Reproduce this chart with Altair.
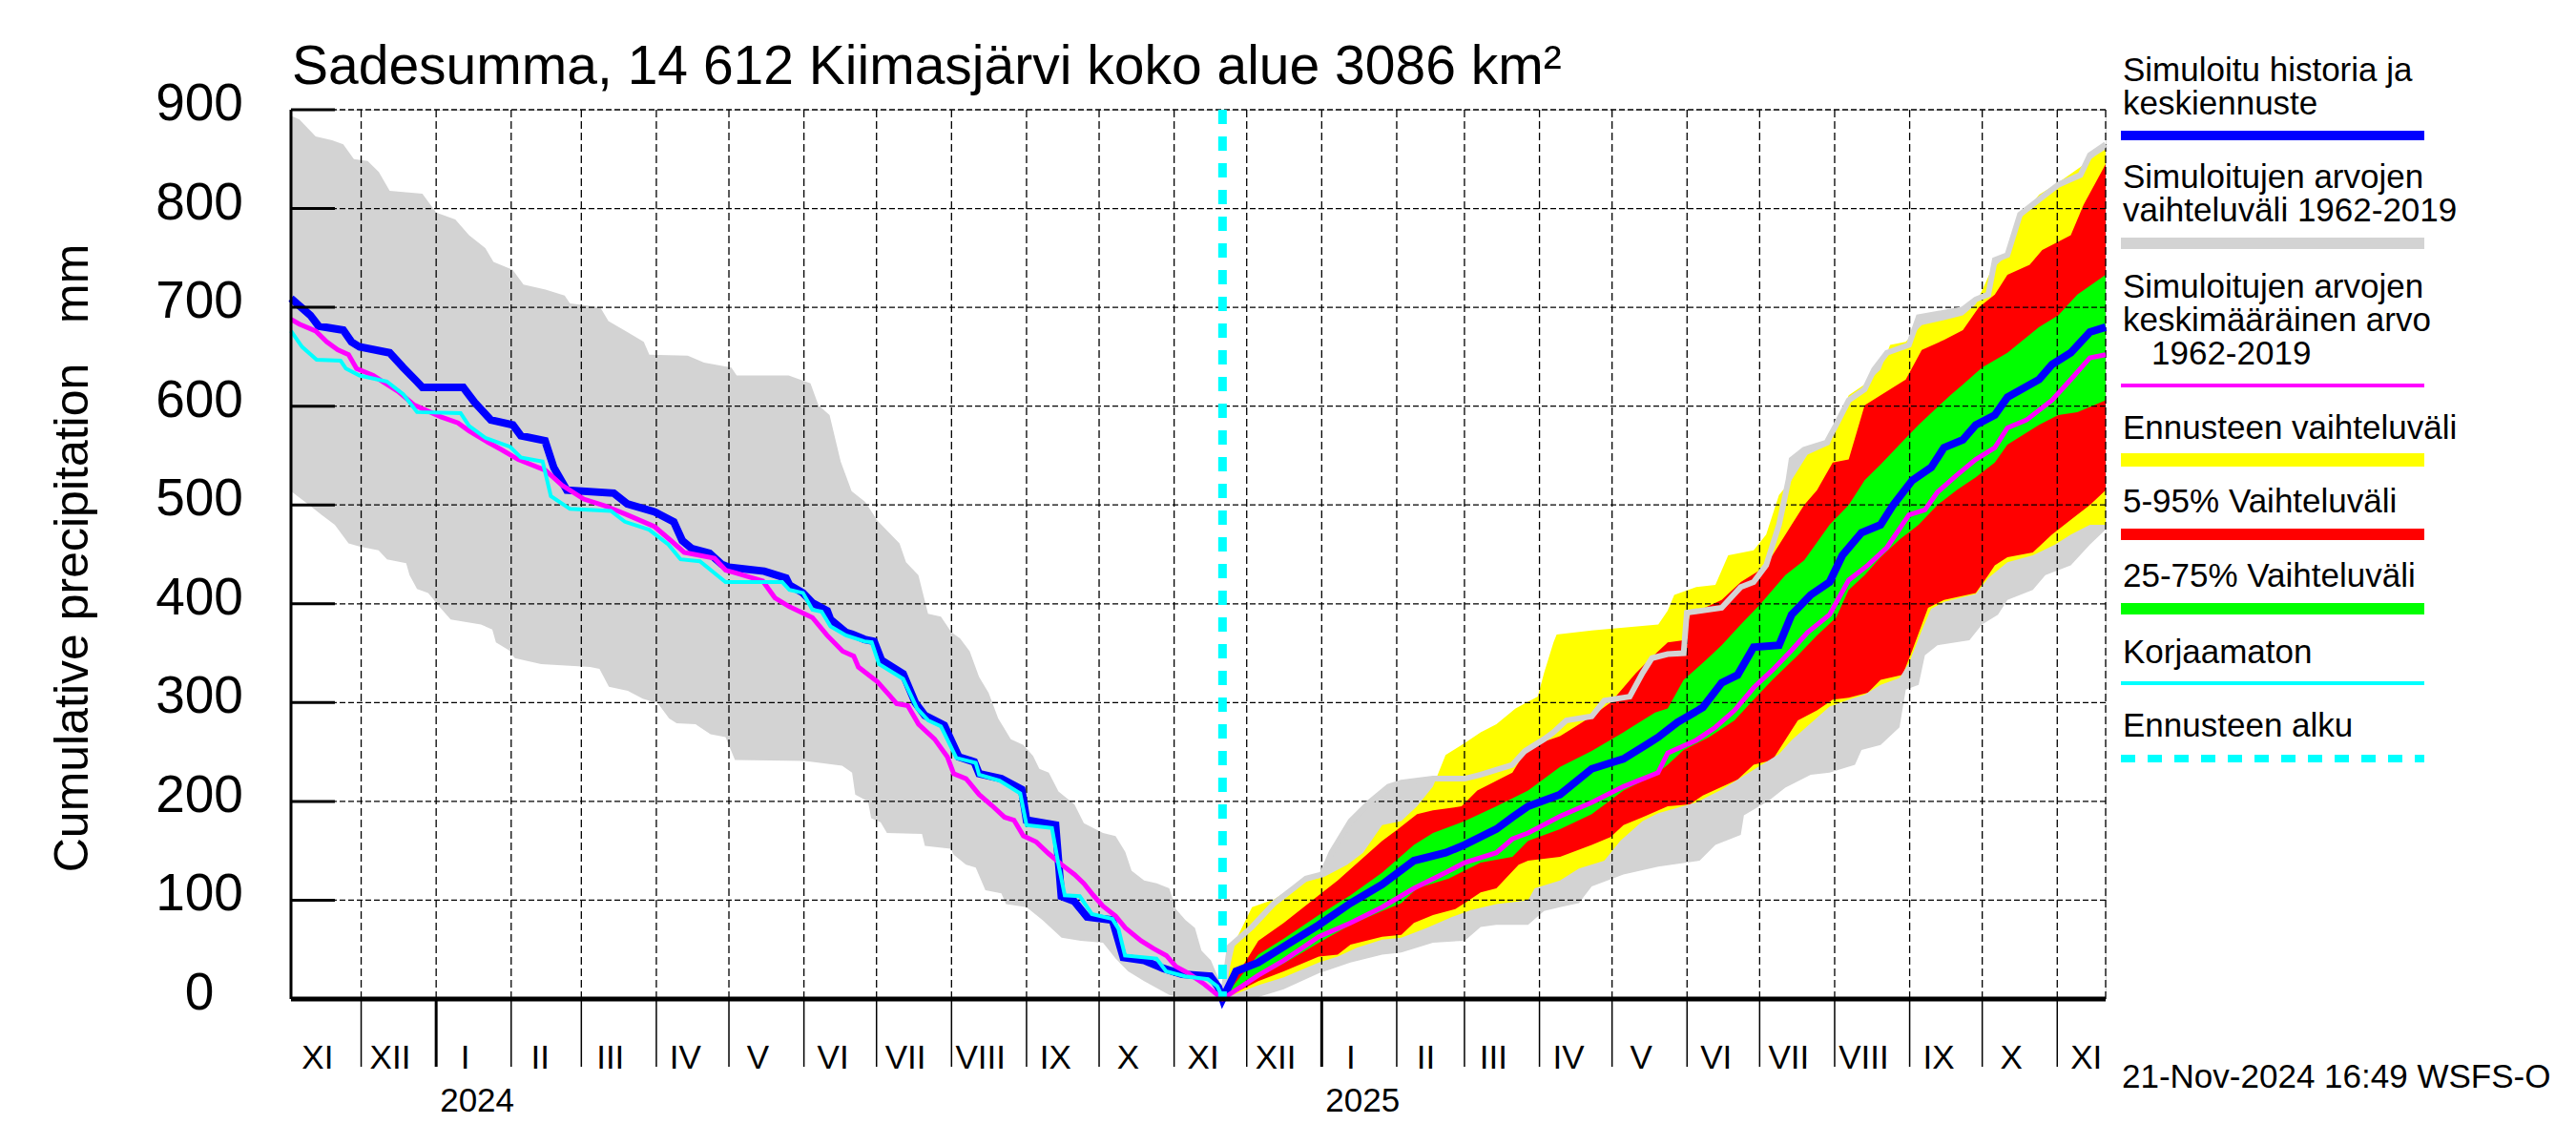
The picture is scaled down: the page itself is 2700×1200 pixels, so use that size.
import altair as alt
import pandas as pd

FONT = "Liberation Sans"
W, H = 1902, 932
BASE = pd.Timestamp("2024-01-01")

# ---------------- data (day offset from 2024-01-01, value mm) ----------------
BLUE_D = [-60, -52, -48.6, -38.4, -35, -31.7, -19.2, -13.6, -8, -5.7, 11.2, 15.8, 22.6, 31.7, 35, 45, 48.6, 54,
          73.4, 79, 90.3, 98.2, 101.7, 105.6, 113, 118, 121, 135.6, 144.6, 146, 151.6, 155.5, 161.6, 163, 169.4,
          172, 177, 181, 184, 193, 198, 202, 210, 216, 222.4, 224.4, 233.6, 242, 244, 256, 258.4, 263.7, 269,
          279.5, 284, 292.6, 300.5, 308.3, 320, 323.3, 325,
          330.6, 339.8, 350.3, 364.8, 377.9, 391, 404.1, 417.2, 425.1, 438.2, 444.8, 451.3, 464.5, 477.6, 490.7,
          501.2, 505.1, 513, 523.5, 531.3, 537.9, 544.5, 555, 560.2, 568.1, 575.9, 581.2, 589.1, 597, 602.2,
          610.1, 617.9, 623.2, 631, 636.3, 644.2, 649.4, 662.5, 667.8, 675.6, 683.5, 690]
BLUE_V = [709, 692, 681, 677, 665, 660, 654, 639, 625, 619, 619, 604, 586, 581, 570, 565, 538, 515,
          512, 501, 493, 483, 464, 456, 451, 440, 437, 433, 426, 419, 411, 401, 393, 384, 371,
          369, 364, 362, 343, 329, 300, 287, 277, 245, 240, 228, 223, 212, 181, 176, 104, 99, 83,
          80, 42, 39, 31, 25, 23, 12, 0,
          28, 37, 53, 75, 97, 116, 140, 148, 156, 172, 184, 195, 207, 233, 243,
          259, 265, 280, 295, 320, 328, 356, 358, 389, 409, 422, 449, 472, 480, 500,
          525, 538, 558, 566, 581, 591, 609, 627, 642, 654, 675, 680]

CYAN_D = [-60, -55.4, -49.4, -39.5, -37.3, -31.7, -20.4, -13.6, -7.9, 10.1, 13.6, 20.3, 30.5, 35, 44, 47.4,
          55.3, 72.2, 78, 88, 96, 101, 109, 119.6, 143, 146, 151.6, 155.5, 159.3, 163, 169.4, 177, 180, 183,
          193, 198.8, 203.3, 208.6, 215, 223, 224.4, 232.8, 241.4, 244, 254.5, 257.2, 259.8, 266, 271, 279.5,
          282, 284.7, 297.7, 301.7, 309.5, 319, 322.8, 325]
CYAN_V = [676, 660, 647, 646, 638, 631, 625, 612, 594, 593, 580, 568, 559, 548, 544, 509,
          496, 494, 483, 475, 460, 445, 443, 422, 422, 414, 411, 394, 392, 377, 368, 362, 361, 339,
          324, 294, 282, 276, 244, 239, 227, 221, 208, 176, 173, 136, 105, 104, 86, 81,
          71, 44, 41, 28, 23, 20, 13, 2]

MAG_D = [-60, -56.5, -49.8, -45.2, -40.7, -36.2, -32.9, -26, -20.3, -15.8, -9, 2.2, 9, 13.6, 20.3, 27, 33.9,
         45.2, 52, 61, 70, 79, 90.3, 97, 102.5, 115, 119.6, 124, 135, 140, 146, 155.5, 161.6, 168, 172.6,
         174.5, 182.4, 187.5, 190.3, 194.9, 199.4, 206, 211.3, 213.9, 219, 224.4, 229.6, 234.9, 238.8, 242.7,
         248, 253.2, 258.5, 263.8, 267.7, 271.6, 275.6, 280.8, 284.8, 291.3, 296.5, 301.8, 305.7, 311, 317.5, 325,
         339.8, 350.3, 364.8, 377.9, 391, 404.1, 417.2, 425.1, 438.2, 444.8, 451.3, 464.5, 477.6, 490.7, 505,
         509, 520.8, 528.7, 536.6, 544.5, 552.3, 560.2, 566.8, 575.9, 583.8, 591.7, 599.6, 608.7, 615.3, 620.5,
         628.4, 636.3, 644.2, 649.4, 657.3, 667.8, 675.6, 683.5, 690]
MAG_V = [688, 683, 676, 665, 657, 652, 638, 631, 622, 615, 601, 589, 583, 575, 565, 556, 546,
         535, 520, 506, 499, 490, 478, 464, 452, 446, 434, 431, 423, 406, 397, 386, 368, 352, 347,
         336, 321, 307, 299, 297, 278, 263, 245, 228, 223, 207, 196, 184, 181, 165,
         159, 147, 136, 126, 117, 105, 94, 84, 72, 59, 51, 44, 33, 26, 15, 0,
         24, 39, 63, 77, 93, 112, 128, 138, 148, 162, 168, 185, 199, 215, 229,
         249, 262, 275, 292, 315, 333, 353, 371, 389, 424, 439, 457, 490, 495, 513,
         530, 546, 558, 578, 586, 606, 627, 649, 652]

GRAY_UP_D = [-60, -56.5, -49.8, -43, -38.4, -34, -28.3, -23.7, -19.2, -5.7, 0, 7.9, 13.6, 20.3, 23.7, 31.6, 36.1,
             45.2, 53.1, 55.3, 67.8, 71.2, 79, 85.8, 88.1, 104, 110.7, 122, 124.2, 145.7, 154.7, 158, 162.6,
             167.2, 171.7, 177.3, 182.4, 191.5, 194.2, 199.3, 203.3, 208.6, 213, 216.5, 220.5, 224.4, 228.3,
             232.3, 237.5, 242.7, 246.7, 249.3, 253.2, 257.2, 263.8, 267.7, 275.6, 280.8, 284.8, 287.4, 292.6,
             297.8, 303, 305.7, 309.7, 313.6, 316.3, 320.2, 323.5, 325,
             328, 337.2, 346.4, 354.3, 359.5, 366.1, 370, 377.9, 385.7, 393.6, 398.9, 412, 425.1, 431.7, 444.8,
             450, 457.9, 461.8, 467.1, 477.6, 482.8, 493.3, 498.6, 502.5, 509, 515.6, 516.9, 531.3, 539.2, 544.5,
             549.7, 555, 558.9, 560.2, 565.4, 574.6, 578.6, 583.8, 590.4, 594.3, 599.6, 608.7, 612.7, 631, 636.3,
             641.5, 644.2, 649.4, 654.6, 662.5, 670.4, 679.6, 683.5, 690]
GRAY_UP_V = [894, 890, 873, 869, 865, 850, 848, 837, 818, 815, 796, 789, 773, 760, 746, 738, 723,
             718, 712, 704, 700, 686, 675, 665, 652, 651, 644, 639, 631, 631, 623, 601, 591,
             544, 514, 503, 484, 461, 442, 429, 390, 387, 371, 365, 352, 326, 310,
             284, 263, 257, 246, 233, 229, 210, 197, 178, 168, 165, 149, 130, 120,
             117, 112, 91, 80, 72, 49, 39, 20, 0,
             53, 73, 97, 112, 122, 126, 148, 180, 199, 215, 219, 223, 223, 227, 237,
             251, 263, 270, 282, 286, 302, 306, 330, 345, 349, 350, 391, 396, 417, 422,
             439, 480, 525, 546, 556, 563, 581, 606, 617, 637, 654, 662, 690, 698, 708,
             713, 748, 753, 794, 809, 824, 834, 854, 865]

GRAY_LO_D = [-60, -52, -47.4, -41.9, -36.2, -31.7, -23.8, -20.3, -12.4, -11, -7.9, -3.3, 1.4, 6, 18.5, 23.2, 24.7,
             30.1, 32.5, 43.4, 63.6, 67.5, 71.4, 79.2, 85.4, 91.7, 96.3, 99.4, 107.2, 113.4, 119.6, 123.5, 152.3,
             158.6, 167.8, 171.9, 173.2, 178.5, 179.8, 183.7, 186.3, 200.8, 202, 212.6, 213.9, 219, 223, 227,
             233.6, 235.5, 244, 250.6, 258.5, 266.4, 275.6, 280.8, 286, 292.6, 303, 311, 325,
             339.8, 350.3, 364.8, 377.9, 391, 398.9, 412, 425.1, 431.7, 438.2, 451.3, 457.9, 464.5, 472.3, 477.6,
             490.7, 505.1, 522.2, 528.7, 539.2, 540.5, 551, 557.6, 568.1, 575.9, 586.4, 589.1, 597, 604.8, 607.4,
             612.7, 615.3, 620.5, 633.7, 638.9, 645.5, 649.4, 659.9, 665.1, 675.6, 683.5, 690]
GRAY_LO_V = [514, 499, 490, 480, 461, 458, 454, 445, 441, 429, 415, 411, 397, 384, 379, 374, 361,
             353, 345, 339, 336, 334, 316, 312, 304, 299, 284, 279, 278, 268, 265, 242, 241,
             239, 236, 229, 207, 200, 183, 179, 168, 167, 155, 152, 146, 136, 133, 110,
             107, 96, 93, 80, 62, 59, 57, 41, 28, 18, 4, 0, 0,
             2, 10, 26, 37, 45, 47, 57, 59, 73, 75, 75, 89, 93, 97, 114,
             126, 134, 140, 156, 166, 186, 201, 214, 227, 229, 237, 252, 257, 275, 313,
             318, 348, 358, 363, 379, 389, 404, 414, 429, 439, 460, 475]

YEL_UP_D = [325, 330.6, 337.2, 346.4, 355.6, 367.4, 376.6, 383.1, 391, 398.9, 405.4, 412, 417.2, 425.1, 431.7,
            438.2, 446.1, 455.3, 457.9, 461.8, 463.1, 477.6, 505.1, 509, 511.7, 520.8, 528.7, 534, 544.5, 549.7,
            555, 560.2, 566.8, 575.9, 583.8, 590.4, 597, 600.9, 607.4, 614, 623.2, 631, 636.3, 642.8, 649.4,
            654.6, 662.5, 669.1, 679.6, 686.1, 690]
YEL_UP_V = [0, 60, 93, 101, 116, 124, 136, 148, 176, 180, 195, 215, 247, 259, 270,
            278, 294, 306, 330, 361, 369, 373, 379, 393, 409, 417, 419, 449, 454, 470,
            510, 525, 551, 561, 611, 622, 637, 662, 665, 682, 687, 692, 703, 738, 753,
            789, 814, 824, 842, 854, 860]

YEL_LO_D = [325, 339.8, 350.3, 364.8, 372.6, 380.5, 391, 398.9, 409.4, 419.8, 427.7, 438.2, 451.3, 454, 464.5,
            472.3, 482.8, 489.4, 498.6, 505.1, 520.8, 531.3, 541.8, 555, 560.2, 575.9, 583.8, 590.4, 597, 604.8,
            608.7, 614, 617.9, 623.2, 636.3, 641.5, 649.4, 659.9, 669.1, 675.6, 683.5, 690]
YEL_LO_V = [0, 14, 22, 37, 43, 52, 60, 62, 72, 83, 90, 96, 100, 112, 120,
            132, 140, 160, 180, 188, 199, 212, 228, 248, 262, 296, 303, 308, 318, 325,
            340, 373, 395, 402, 410, 426, 442, 449, 460, 470, 480, 480]

RED_UP_D = [325, 339.8, 350.3, 364.8, 372.6, 381.8, 391, 397.5, 405.4, 412, 423.8, 430.3, 444.8, 451.3, 464.5,
            477.6, 485.4, 495.9, 501.2, 509, 515.6, 518.2, 531.3, 539.2, 547.1, 552.3, 560.2, 565.4, 570.7, 577.2,
            583.8, 590.4, 597, 607.4, 614, 623.2, 631, 637.6, 644.2, 649.4, 658.6, 663.8, 675.6, 680.9, 690]
RED_UP_V = [0, 59, 77, 105, 120, 140, 160, 172, 187, 191, 195, 211, 229, 255, 266,
            286, 300, 330, 343, 361, 363, 389, 404, 422, 434, 449, 480, 500, 515, 543,
            546, 601, 611, 627, 657, 667, 677, 700, 713, 733, 743, 758, 773, 804, 845]

RED_LO_D = [325, 339.8, 350.3, 364.8, 372.6, 377.9, 391, 398.9, 404.1, 412, 421.2, 425.1, 431.7, 438.2, 447.4,
            451.3, 464.5, 477.6, 485.4, 490.7, 498.6, 509, 518.2, 523.5, 537.9, 544.5, 552.3, 562.8, 570.7, 577.2,
            583.8, 591.7, 597, 606.1, 610.1, 616.6, 623.2, 636.3, 641.5, 644.2, 649.4, 659.9, 667.8, 675.6, 683.5, 690]
RED_LO_V = [0, 18, 28, 43, 45, 55, 63, 65, 77, 85, 91, 97, 108, 112, 136,
            140, 144, 156, 164, 176, 184, 195, 197, 206, 222, 237, 242, 282, 292, 303,
            305, 310, 323, 328, 353, 396, 404, 411, 429, 439, 447, 452, 470, 485, 500, 515]

GRN_UP_D = [325, 339.8, 350.3, 364.8, 377.9, 391, 404.1, 412, 425.1, 438.2, 451.3, 464.5, 477.6, 490.7, 503.8,
            509, 515.6, 524.8, 531.3, 539.2, 547.1, 557.6, 565.4, 575.9, 583.8, 590.4, 597, 604.8, 612.7, 619.2,
            625.8, 631, 638.9, 649.4, 662.5, 670.4, 678.3, 690]
GRN_UP_V = [0, 45, 61, 85, 105, 128, 156, 168, 180, 195, 211, 235, 251, 270, 290,
            294, 323, 343, 358, 379, 399, 429, 444, 480, 500, 525, 541, 561, 581, 596,
            611, 622, 639, 654, 680, 692, 713, 733]

GRN_LO_D = [325, 339.8, 350.3, 364.8, 377.9, 391, 398.9, 405.4, 418.5, 431.7, 444.8, 451.3, 464.5, 477.6, 490.7,
            503.8, 509, 515.6, 526.1, 536.6, 544.5, 552.3, 562.8, 570.7, 578.6, 583.8, 590.4, 597, 604.8, 612.7,
            620.5, 628.4, 636.3, 644.2, 649.4, 662.5, 670.4, 678.3, 690]
GRN_LO_V = [0, 22, 36, 57, 75, 89, 97, 112, 122, 138, 144, 160, 172, 187, 211,
            227, 237, 252, 265, 282, 303, 323, 348, 368, 386, 414, 429, 447, 465, 480,
            500, 515, 528, 543, 561, 581, 591, 594, 606]

# axis furniture
MONTH_STARTS = ["2023-12-01", "2024-01-01", "2024-02-01", "2024-03-01", "2024-04-01", "2024-05-01", "2024-06-01",
                "2024-07-01", "2024-08-01", "2024-09-01", "2024-10-01", "2024-11-01", "2024-12-01", "2025-01-01",
                "2025-02-01", "2025-03-01", "2025-04-01", "2025-05-01", "2025-06-01", "2025-07-01", "2025-08-01",
                "2025-09-01", "2025-10-01", "2025-11-01"]
GRID_DATES = MONTH_STARTS + ["2025-11-21"]
YEAR_STARTS = ["2024-01-01", "2025-01-01"]
YEAR_LABELS = ["2024", "2025"]
MONTH_LABEL_DATES = ["2023-11-13", "2023-12-13", "2024-01-13", "2024-02-13", "2024-03-13", "2024-04-13",
                     "2024-05-13", "2024-06-13", "2024-07-13", "2024-08-13", "2024-09-13", "2024-10-13",
                     "2024-11-13", "2024-12-13", "2025-01-13", "2025-02-13", "2025-03-13", "2025-04-13",
                     "2025-05-13", "2025-06-13", "2025-07-13", "2025-08-13", "2025-09-13", "2025-10-13",
                     "2025-11-13"]
MONTH_LABELS = ["XI", "XII", "I", "II", "III", "IV", "V", "VI", "VII", "VIII", "IX", "X", "XI",
                "XII", "I", "II", "III", "IV", "V", "VI", "VII", "VIII", "IX", "X", "XI"]
Y_TICKS = [0, 100, 200, 300, 400, 500, 600, 700, 800, 900]
FORECAST_START = "2024-11-21"

TITLE = "Sadesumma, 14 612 Kiimasjärvi koko alue 3086 km²"
YTITLE = "Cumulative precipitation\u00a0\u00a0\u00a0mm"
FOOTER = "21-Nov-2024 16:49 WSFS-O"

LEG_TEXT_X = [1920, 1920, 1920, 1920, 1920, 1920, 1950, 1920, 1920, 1920, 1920, 1920]
LEG_TEXT_Y = [-30, 5, 82, 117, 197, 232, 267, 345, 422, 500, 580, 657]
LEG_TEXT = ["Simuloitu historia ja", "keskiennuste", "Simuloitujen arvojen", "vaihteluväli 1962-2019",
            "Simuloitujen arvojen", "keskimääräinen arvo", "1962-2019", "Ennusteen vaihteluväli",
            "5-95% Vaihteluväli", "25-75% Vaihteluväli", "Korjaamaton", "Ennusteen alku"]
LEG_LINE_Y = [27, 140, 289, 367, 445, 523, 601]
LEG_LINE_C = ["#0000ff", "#d3d3d3", "#ff00ff", "#ffff00", "#ff0000", "#00ff00", "#00ffff"]
LEG_LINE_W = [10, 12, 4, 14, 12, 12, 4]

GRAY = "#d3d3d3"


def frame(days, vals):
    return pd.DataFrame({
        "date": [(BASE + pd.Timedelta(minutes=round(d * 1440))).strftime("%Y-%m-%dT%H:%M:%S") for d in days],
        "v": vals,
    })


XS = alt.Scale(domain=[alt.DateTime(year=2023, month=11, date=2), alt.DateTime(year=2025, month=11, date=21)])
YS = alt.Scale(domain=[0, 900], nice=False, zero=True)
X = alt.X("date:T", scale=XS, axis=None)
Y = alt.Y("v:Q", scale=YS, axis=None)
ONE = pd.DataFrame({"k": [0]})

layers = []

# bands (layered from baseline)
for d, v, c in [(GRAY_UP_D, GRAY_UP_V, GRAY), (YEL_UP_D, YEL_UP_V, "#ffff00"), (RED_UP_D, RED_UP_V, "#ff0000"),
                (GRN_UP_D, GRN_UP_V, "#00ff00"), (GRN_LO_D, GRN_LO_V, "#ff0000"), (RED_LO_D, RED_LO_V, "#ffff00"),
                (YEL_LO_D, YEL_LO_V, GRAY), (GRAY_LO_D, GRAY_LO_V, "#ffffff")]:
    layers.append(alt.Chart(frame(d, v)).mark_area(color=c, opacity=1, interpolate="linear").encode(x=X, y=Y))

# grid
grid_x = pd.DataFrame({"date": GRID_DATES})
layers.append(alt.Chart(grid_x).mark_rule(color="black", strokeWidth=1.3, strokeDash=[8, 4]).encode(x=X))
grid_y = pd.DataFrame({"v": Y_TICKS[1:]})
layers.append(alt.Chart(grid_y).mark_rule(color="black", strokeWidth=1.3, strokeDash=[6, 3]).encode(y=Y))

# gray upper edge line in forecast part
i0 = GRAY_UP_D.index(325)
layers.append(alt.Chart(frame(GRAY_UP_D[i0:], GRAY_UP_V[i0:])).mark_line(color=GRAY, strokeWidth=6).encode(x=X, y=Y))
# lines
layers.append(alt.Chart(frame(BLUE_D, BLUE_V)).mark_line(color="#0000ff", strokeWidth=8).encode(x=X, y=Y))
layers.append(alt.Chart(frame(MAG_D, MAG_V)).mark_line(color="#ff00ff", strokeWidth=5).encode(x=X, y=Y))
layers.append(alt.Chart(frame(CYAN_D, CYAN_V)).mark_line(color="#00ffff", strokeWidth=4).encode(x=X, y=Y))

# forecast start
layers.append(alt.Chart(pd.DataFrame({"date": [FORECAST_START]})).mark_rule(
    color="#00ffff", strokeWidth=9, strokeDash=[15, 13]).encode(x=X))

# axes
layers.append(alt.Chart(ONE).mark_rule(color="black", strokeWidth=3).encode(x=alt.value(0)))
layers.append(alt.Chart(ONE).mark_rule(color="black", strokeWidth=5).encode(y=alt.value(H)))
layers.append(alt.Chart(pd.DataFrame({"v": Y_TICKS[1:]})).mark_rule(color="black", strokeWidth=3).encode(
    y=Y, x=alt.value(0), x2=alt.value(46)))
layers.append(alt.Chart(pd.DataFrame({"v": Y_TICKS, "t": [str(t) for t in Y_TICKS]})).mark_text(
    font=FONT, fontSize=55, align="center", baseline="alphabetic", dy=11, color="black").encode(
    y=Y, x=alt.value(-96), text="t:N"))

month_ticks = pd.DataFrame({"date": [m for m in MONTH_STARTS if m not in YEAR_STARTS]})
layers.append(alt.Chart(month_ticks).mark_rule(color="black", strokeWidth=1.5).encode(
    x=X, y=alt.value(H), y2=alt.value(1003)))
layers.append(alt.Chart(pd.DataFrame({"date": YEAR_STARTS})).mark_rule(color="black", strokeWidth=3).encode(
    x=X, y=alt.value(H), y2=alt.value(1003)))
layers.append(alt.Chart(pd.DataFrame({"date": MONTH_LABEL_DATES, "t": MONTH_LABELS})).mark_text(
    font=FONT, fontSize=35, align="center", baseline="alphabetic", color="black").encode(
    x=X, y=alt.value(1005), text="t:N"))
layers.append(alt.Chart(pd.DataFrame({"date": YEAR_STARTS, "t": YEAR_LABELS})).mark_text(
    font=FONT, fontSize=35, align="left", baseline="alphabetic", dx=4, color="black").encode(
    x=X, y=alt.value(1050), text="t:N"))

# titles
layers.append(alt.Chart(ONE).mark_text(text=TITLE, font=FONT, fontSize=57, align="left",
                                       baseline="alphabetic", color="black").encode(
    x=alt.value(1), y=alt.value(-27)))
layers.append(alt.Chart(ONE).mark_text(text=YTITLE, font=FONT, fontSize=50, align="center",
                                       baseline="middle", angle=270, color="black").encode(
    x=alt.value(-228), y=alt.value(470)))
layers.append(alt.Chart(ONE).mark_text(text=FOOTER, font=FONT, fontSize=35, align="left",
                                       baseline="alphabetic", color="black").encode(
    x=alt.value(1919), y=alt.value(1025)))

# legend
leg = pd.DataFrame({"px": LEG_TEXT_X, "py": LEG_TEXT_Y, "t": LEG_TEXT})
layers.append(alt.Chart(leg).mark_text(font=FONT, fontSize=35, align="left", baseline="alphabetic",
                                       color="black").encode(
    x=alt.X("px:Q", scale=None, axis=None), y=alt.Y("py:Q", scale=None, axis=None), text="t:N"))
legl = pd.DataFrame({"py": LEG_LINE_Y, "c": LEG_LINE_C, "w": LEG_LINE_W})
layers.append(alt.Chart(legl).mark_rule().encode(
    y=alt.Y("py:Q", scale=None, axis=None), x=alt.value(1918), x2=alt.value(2236),
    color=alt.Color("c:N", scale=None, legend=None), strokeWidth=alt.StrokeWidth("w:Q", scale=None, legend=None)))
layers.append(alt.Chart(ONE).mark_rule(color="#00ffff", strokeWidth=8, strokeDash=[15, 13]).encode(
    y=alt.value(680), x=alt.value(1918), x2=alt.value(2236)))

chart = alt.layer(*layers).properties(
    width=W, height=H,
    autosize=alt.AutoSizeParams(type="none"),
    padding={"left": 297, "top": 107, "right": 470, "bottom": 140},
).configure_view(stroke=None).configure(background="white")

chart.save("out.html", embed_options={"renderer": "svg", "actions": False})
